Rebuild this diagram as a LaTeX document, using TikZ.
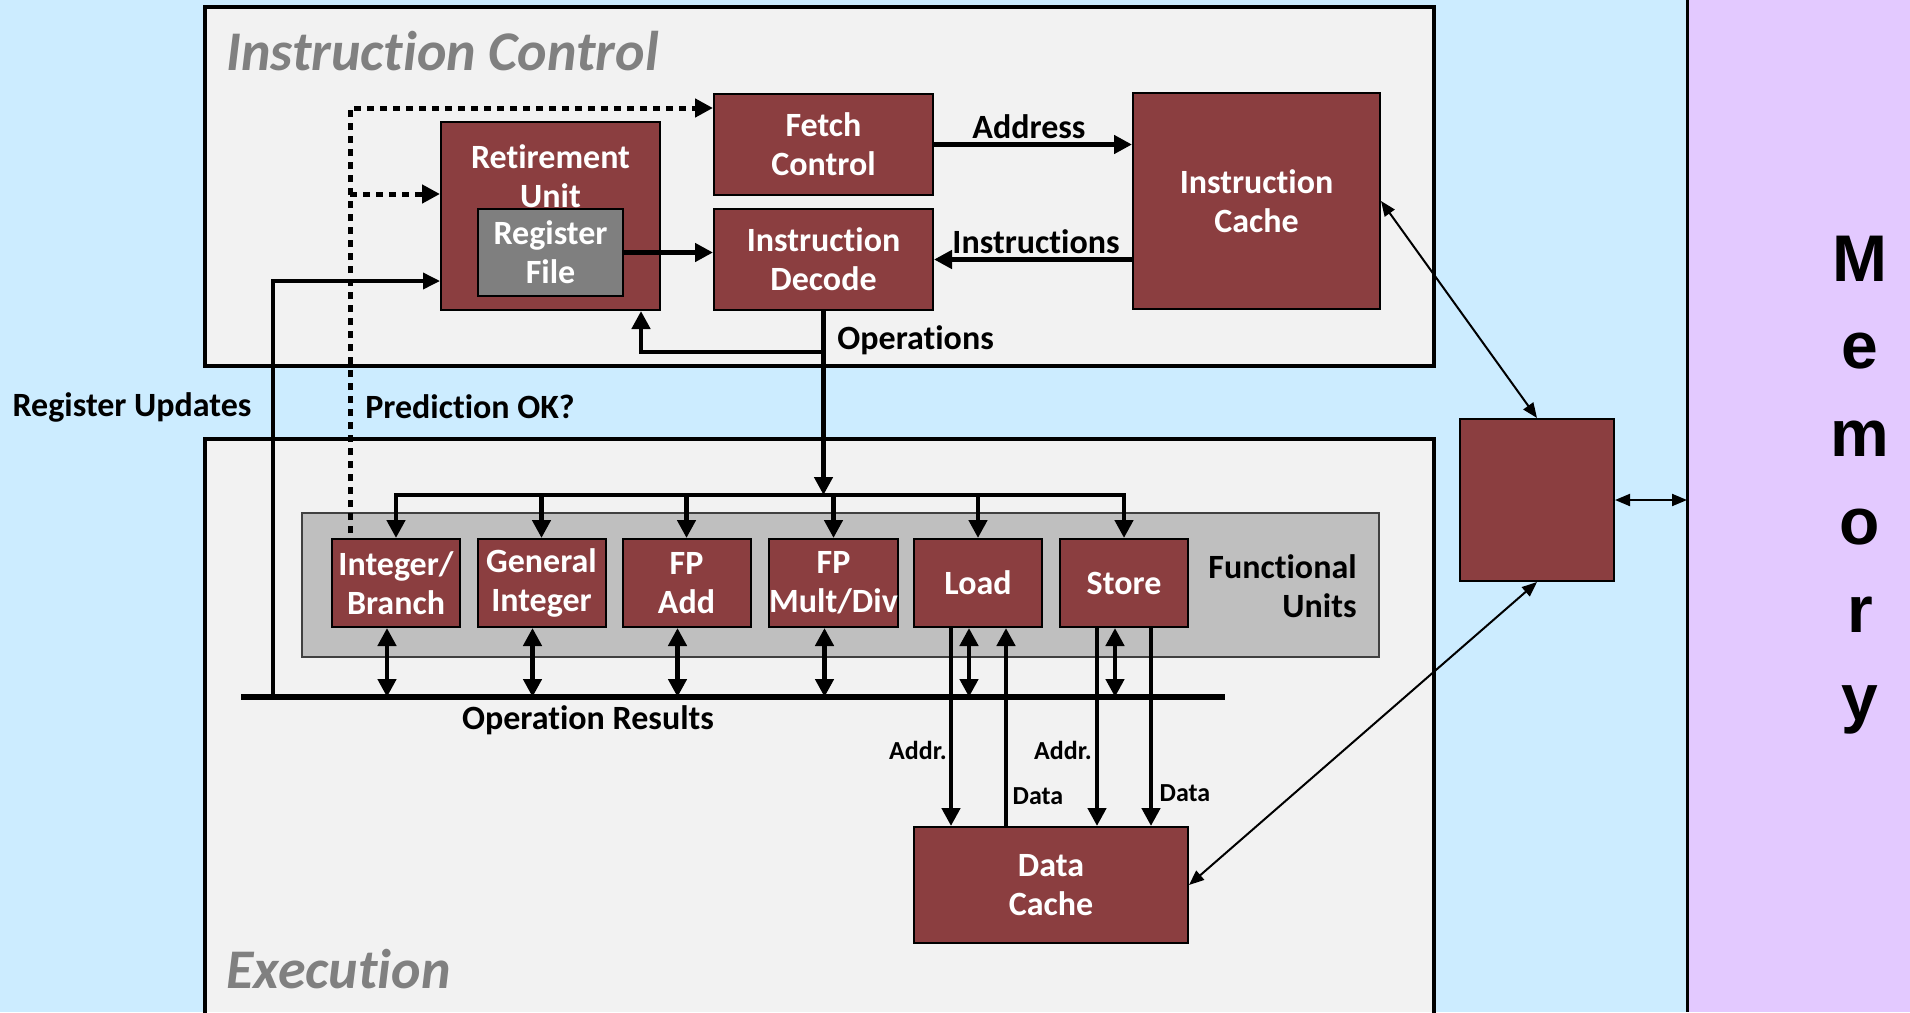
\documentclass[tikz,border=0pt]{standalone}
\usepackage{fontspec}
\setmainfont{Carlito}[Ligatures=NoCommon]
\newfontfamily\memfont{Liberation Sans}
\usetikzlibrary{arrows.meta,calc}
\definecolor{bgblue}{HTML}{CCECFF}
\definecolor{mempurple}{HTML}{E3C9FF}
\definecolor{boxred}{HTML}{8B3E40}
\definecolor{panelgray}{HTML}{BFBFBF}
\definecolor{framegray}{HTML}{F2F2F2}
\definecolor{rfgray}{HTML}{7F7F7F}
\definecolor{titlegray}{HTML}{808080}
\begin{document}
\begin{tikzpicture}[x=0.5pt,y=-0.5pt,
  unit/.style={draw=black,line width=1pt,fill=boxred,text=white,align=center,inner sep=0pt,
    font=\fontsize{17}{19.5}\selectfont\bfseries},
  fu/.style={unit,minimum width=64pt,minimum height=44pt},
  frame/.style={draw=black,line width=1.6pt,fill=framegray},
  lbl/.style={font=\fontsize{17}{19.5}\selectfont\bfseries,inner sep=0pt,align=center},
  smalllbl/.style={font=\fontsize{13}{15}\selectfont\bfseries,inner sep=0pt},
  titlelbl/.style={font=\fontsize{28}{32}\selectfont\bfseries\itshape,text=titlegray,inner sep=0pt,anchor=base west},
  memlbl/.style={font=\fontsize{33}{40}\selectfont\memfont\bfseries,inner sep=0pt,anchor=base},
  thickarr/.style={line width=2.4pt,-{Triangle[length=9pt,width=9pt]}},
  dblarr/.style={line width=2.4pt,{Triangle[length=9pt,width=9pt]}-{Triangle[length=9pt,width=9pt]}},
  dotarr/.style={line width=2.5pt,dash pattern=on 3.5pt off 3pt,-{Triangle[length=9pt,width=9pt]}},
  thinarr/.style={line width=1pt,{Triangle[length=7.5pt,width=6pt]}-{Triangle[length=7.5pt,width=6pt]}},
  busline/.style={line width=2.4pt,line cap=rect}
]
\useasboundingbox (0,0) rectangle (1910,1012);
% backgrounds
\fill[bgblue] (0,0) rectangle (1687,1012);
\fill[mempurple] (1687,0) rectangle (1910,1012);
\draw[line width=1.5pt] (1687,0) -- (1687,1012);

% frames
\draw[frame] (205,7) rectangle (1434,366);
\fill[framegray] (205,439) rectangle (1434,1012);
\draw[line width=1.6pt] (205,1014) -- (205,439) -- (1434,439) -- (1434,1014);
\node[titlelbl] (ictitle) at (226,70) {Instruction Control};
\node[titlelbl] (extitle) at (226,988) {Execution};

% functional units panel
\draw[fill=panelgray,draw=black!75,line width=0.8pt] (302,513) rectangle (1379,657);

% units
\node[unit,minimum width=109.5pt,minimum height=50.5pt] (fetch) at (823.5,144.5) {Fetch\\Control};
\node[unit,minimum width=109.5pt,minimum height=94pt] (retire) at (550.5,216) {};
\node[lbl,text=white] (retirelbl) at (550.5,176) {Retirement\\Unit};
\node[unit,fill=rfgray,minimum width=72.5pt,minimum height=43.5pt] (regfile) at (550.5,252.5) {Register\\File};
\node[unit,minimum width=109.5pt,minimum height=50.5pt] (decode) at (823.5,259.5) {Instruction\\Decode};
\node[unit,minimum width=123.5pt,minimum height=108pt] (icache) at (1256.5,201) {Instruction\\Cache};
\node[unit,minimum width=77pt,minimum height=81pt] (l2) at (1537,500) {};
\node[unit,minimum width=137pt,minimum height=58pt] (dcache) at (1051,885) {Data\\Cache};

\node[fu] (intbr) at (396,583) {Integer/\\Branch};
\node[fu] (genint) at (541.5,583) {General\\Integer};
\node[fu] (fpadd) at (686.5,583) {FP\\Add};
\node[fu] (fpmul) at (833.5,583) {FP\\Mult/Div};
\node[fu] (load) at (978,583) {Load};
\node[fu] (store) at (1124,583) {Store};

\node[lbl,align=right,anchor=east] (fulbl) at (1357,586) {Functional\\Units};

% coordinates
\coordinate (busy) at (0,495);
\coordinate (resL) at (241,697);
\coordinate (resR) at (1225,697);
\coordinate (ru) at (273,697);
\coordinate (pred) at (350,533);
\coordinate (predj) at (350,194);
\coordinate (memedge) at (1687,500);

% instruction control arrows
\draw[thickarr] (fetch.east) -- (fetch.east -| icache.west);
\draw[thickarr] (icache.west |- decode.east) -- (decode.east);
\draw[thickarr] (regfile.east) -- (regfile.east -| decode.west);
\draw[thickarr] (decode.south) -- (decode.south |- busy);
\draw[thickarr] (decode.south |- 0,352) -| ($(retire.south)+(90.5,0)$);

% dotted prediction
\draw[dotarr] (pred) |- (fetch.west |- 0,108);
\draw[dotarr] (predj) -- (predj -| retire.west);

% register updates
\draw[line width=1.8pt,-{Triangle[length=8.5pt,width=8pt]}] (ru) |- (retire.west |- 0,281);

% operation bus
\draw[busline] (intbr.north |- busy) -- (store.north |- busy);
\foreach \n in {intbr,genint,fpadd,fpmul,load,store}{
  \draw[thickarr] (\n.north |- busy) -- (\n.north);
  \coordinate (\n-d) at ($(\n.south)+(-9,0)$);
  \draw[dblarr] (\n-d) -- (\n-d |- resL);
}

% results bus
\draw[line width=3pt] (resL) -- (resR);

% load / store to data cache
\draw[thickarr] (load.south -| 951,0) -- (dcache.north -| 951,0);
\draw[thickarr] (dcache.north -| 1006,0) -- (load.south -| 1006,0);
\draw[thickarr] (store.south -| 1097,0) -- (dcache.north -| 1097,0);
\draw[thickarr] (store.south -| 1151,0) -- (dcache.north -| 1151,0);

% memory connections
\draw[thinarr] (icache.east) -- (l2.north);
\draw[thinarr] (dcache.east) -- (l2.south);
\draw[thinarr] (l2.east) -- (memedge);

% labels
\node[lbl] (addrlbl) at (1029,127) {Address};
\node[lbl] (instlbl) at (1036,242) {Instructions};
\node[lbl,anchor=west] (opslbl) at (837,340) {Operations};
\node[lbl] (rulbl) at (132,407) {Register Updates};
\node[lbl] (predlbl) at (470,407) {Prediction OK?};
\node[lbl] (oprlbl) at (588,720) {Operation Results};
\node[smalllbl] (ldaddr) at (918,750) {Addr.};
\node[smalllbl] (staddr) at (1063,750) {Addr.};
\node[smalllbl] (lddata) at (1038,796) {Data};
\node[smalllbl] (stdata) at (1185,793) {Data};

% memory
\foreach \l [count=\i from 0] in {M,e,m,o,r,y}
  \node[memlbl] (mem\i) at (1860,{281+87.8*\i}) {\l};
\end{tikzpicture}
\end{document}
